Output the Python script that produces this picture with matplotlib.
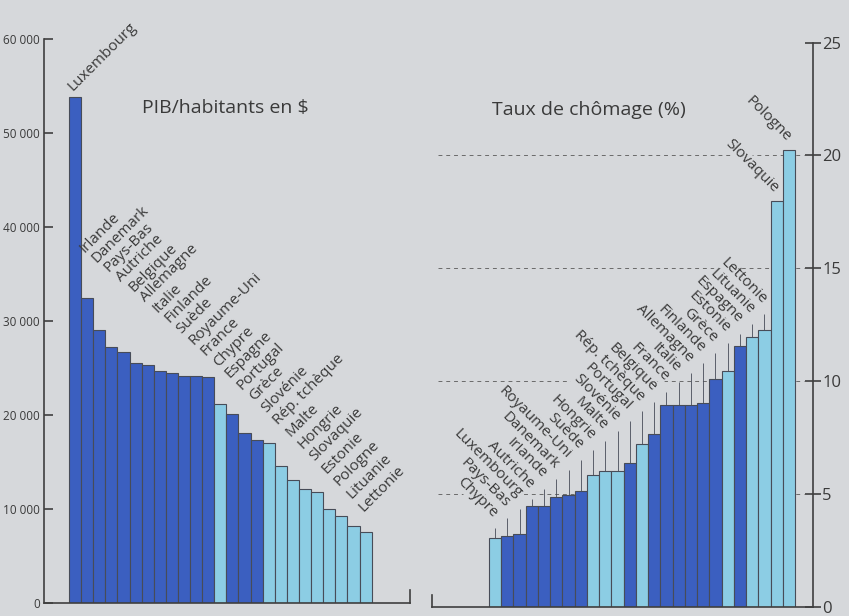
import matplotlib.pyplot as plt
import numpy as np

plt.rcParams['font.family'] = ['Open Sans', 'DejaVu Sans']

fond = '#d6d8db'
fonce = '#3b5fc0'
clair = '#8ccde4'
bord = '#474c58'
texte = '#3a3a3a'

# nouveaux membres en bleu clair
nouveaux = ['Chypre', 'Slovénie', 'Rép. tchèque', 'Malte', 'Hongrie',
            'Slovaquie', 'Estonie', 'Pologne', 'Lituanie', 'Lettonie']

pays_pib = ['Luxembourg', 'Irlande', 'Danemark', 'Pays-Bas', 'Autriche',
            'Belgique', 'Allemagne', 'Italie', 'Finlande', 'Suède',
            'Royaume-Uni', 'France', 'Chypre', 'Espagne', 'Portugal', 'Grèce',
            'Slovénie', 'Rép. tchèque', 'Malte', 'Hongrie', 'Slovaquie',
            'Estonie', 'Pologne', 'Lituanie', 'Lettonie']
pib = [53900, 32500, 29000, 27200, 26700, 25500, 25350, 24650, 24450, 24150,
       24150, 24000, 21150, 20100, 18050, 17350, 17050, 14600, 13050, 12150,
       11750, 10000, 9250, 8200, 7500]

pays_chom = ['Chypre', 'Pays-Bas', 'Luxembourg', 'Autriche', 'Irlande',
             'Danemark', 'Royaume-Uni', 'Suède', 'Hongrie', 'Malte',
             'Slovénie', 'Portugal', 'Rép. tchèque', 'Belgique', 'France',
             'Italie', 'Allemagne', 'Finlande', 'Grèce', 'Estonie', 'Espagne',
             'Lituanie', 'Lettonie', 'Slovaquie', 'Pologne']
chomage = [3.06, 3.15, 3.25, 4.47, 4.47, 4.87, 4.96, 5.15, 5.86, 6.04, 6.04,
           6.36, 7.23, 7.65, 8.93, 8.93, 8.93, 9.04, 10.08, 10.46, 11.55,
           11.95, 12.25, 17.99, 20.25]

ticks_pib = [0, 10000, 20000, 30000, 40000, 50000, 60000]
ticks_chom = [0, 5, 10, 15, 20, 25]

fig = plt.figure(figsize=(8.49, 6.16), dpi=100, facecolor=fond)

# ---- PIB / habitant
ax1 = fig.add_axes([0.0518, 0.0216, 0.4311, 0.9146])
ax1.set_facecolor(fond)
x1 = np.arange(len(pib))
c1 = [clair if p in nouveaux else fonce for p in pays_pib]
ax1.bar(x1, pib, width=1, color=c1, edgecolor=bord, linewidth=0.8)
ax1.set_xlim(-2.57, 27.67)
ax1.set_ylim(0, 60000)
ax1.spines['top'].set_visible(False)
ax1.spines['right'].set_bounds(0, 1400)
for s in ['left', 'bottom', 'right']:
    ax1.spines[s].set_color('#3f3f3f')
    ax1.spines[s].set_linewidth(1.2)
ax1.set_xticks([])
ax1.set_yticks(ticks_pib)
ax1.set_yticklabels(['0'] + [f'{t // 1000} 000' for t in ticks_pib[1:]])
ax1.tick_params(axis='y', direction='in', length=6.5, width=1.2,
                color='#3f3f3f', labelcolor=texte, labelsize=8.5, pad=3)

for i, (p, v) in enumerate(zip(pays_pib, pib)):
    y = max(v + 600, 38250 - 1000 * i - 8 * i * i)
    ax1.text(i - 0.2, y, p, rotation=45, rotation_mode='anchor',
             ha='left', va='baseline', fontsize=11, color=texte)

fig.text(225 / 849, 1 - 108 / 616, 'PIB/habitants en $', ha='center',
         va='center', fontsize=14, color=texte)

# ---- chomage
ax2 = fig.add_axes([0.5085, 0.0146, 0.4491, 0.9164])
ax2.set_facecolor(fond)
x2 = np.arange(len(chomage))
c2 = [clair if p in nouveaux else fonce for p in pays_chom]
ax2.bar(x2, chomage, width=1, color=c2, edgecolor=bord, linewidth=0.8,
        zorder=2)
ax2.set_xlim(-5.18, 25.97)
ax2.set_ylim(0, 25)
ax2.spines['top'].set_visible(False)
ax2.spines['left'].set_bounds(0, 0.55)
for s in ['left', 'bottom', 'right']:
    ax2.spines[s].set_color('#3f3f3f')
    ax2.spines[s].set_linewidth(1.2)
ax2.set_xticks([])
ax2.yaxis.tick_right()
ax2.set_yticks(ticks_chom)
ax2.tick_params(axis='y', direction='inout', length=11.5, width=1.2,
                color='#3f3f3f', labelcolor=texte, labelsize=12, pad=1)

for g in ticks_chom[1:-1]:
    ax2.plot([-4.67, 25.2], [g, g], ls=(0, (4, 4)), color='#6a6a6a',
             lw=0.7, zorder=0)

for i, (p, v) in enumerate(zip(pays_chom, chomage)):
    y = max(3.95 + 0.43 * i, v + 0.35)
    if y - 0.45 > v:
        ax2.vlines(i, v, y - 0.45, color=bord, lw=0.6, zorder=1)
    ax2.text(i - 0.2, y, p, rotation=-45, rotation_mode='anchor',
             ha='right', va='baseline', fontsize=11, color=texte, zorder=3,
             bbox=dict(fc=fond, ec='none', pad=0.1))

fig.text(589 / 849, 1 - 110 / 616, 'Taux de chômage (%)', ha='center',
         va='center', fontsize=14, color=texte)

fig.savefig('out.png', dpi=100, facecolor=fond)
